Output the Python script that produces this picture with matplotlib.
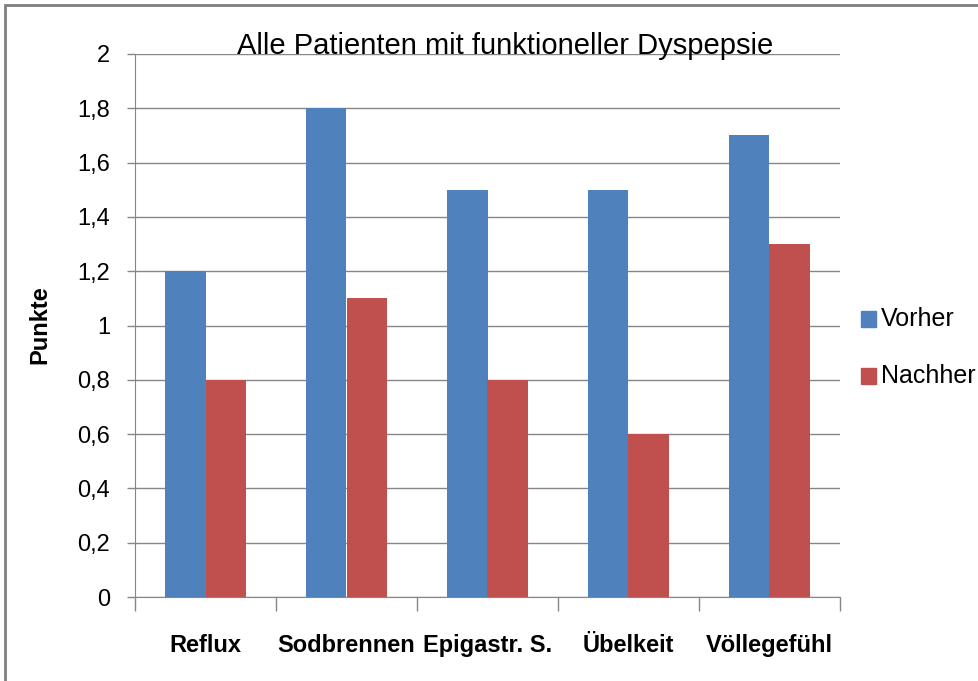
import matplotlib
matplotlib.use("Agg")
import matplotlib.pyplot as plt
import numpy as np
from matplotlib import font_manager
from matplotlib.patches import Rectangle

names = {f.name for f in font_manager.fontManager.ttflist}
fam = ["Liberation Sans Narrow"] if "Liberation Sans Narrow" in names else ["Liberation Sans"]
fam = fam + ["DejaVu Sans"]
plt.rcParams['font.family'] = fam

categories = ["Reflux", "Sodbrennen", "Epigastr. S.", "Übelkeit", "Völlegefühl"]
vorher = [1.2, 1.8, 1.5, 1.5, 1.7]
nachher = [0.8, 1.1, 0.8, 0.6, 1.3]
yticks = [0, 0.2, 0.4, 0.6, 0.8, 1.0, 1.2, 1.4, 1.6, 1.8, 2.0]
ylabels = ["0", "0,2", "0,4", "0,6", "0,8", "1", "1,2", "1,4", "1,6", "1,8", "2"]

fig = plt.figure(figsize=(9.79, 6.81), dpi=100)
ax = fig.add_axes([135/979, 1-597/681, 705/979, 543/681])

x = np.arange(len(categories))
w = 0.284
blue = "#4F81BD"
red = "#C0504D"
ax.bar(x - w/2, vorher, w, color=blue, label="Vorher", zorder=3)
ax.bar(x + w/2, nachher, w, color=red, label="Nachher", zorder=3)

ax.set_xlim(-0.5, len(categories) - 0.5)
ax.set_ylim(0, 2)
ax.set_yticks(yticks)
ax.set_yticklabels(ylabels, fontsize=17)
ax.yaxis.grid(True, color="#868686", linewidth=1, zorder=0)
ax.set_xticks(np.arange(len(categories) + 1) - 0.5)
ax.set_xticklabels([])
ax.tick_params(axis='x', length=10, color="#868686", width=1)
ax.tick_params(axis='y', length=6, color="#868686", width=1, pad=12)
for i, c in enumerate(categories):
    ax.text(i, -0.18, c, ha='center', va='center', fontsize=17, fontweight='bold')
for s in ["top", "right"]:
    ax.spines[s].set_visible(False)
for s in ["left", "bottom"]:
    ax.spines[s].set_color("#868686")

fig.text(40/979, 1-325/681, "Punkte", rotation=90, ha='center', va='center', fontsize=17, fontweight='bold')
fig.text(505/979, 1-46/681, "Alle Patienten mit funktioneller Dyspepsie", ha='center', va='center', fontsize=21)

# legend
fig.patches.append(Rectangle((861/979, 1-327/681), 15/979, 16/681, transform=fig.transFigure, color=blue))
fig.patches.append(Rectangle((861/979, 1-384/681), 15/979, 16/681, transform=fig.transFigure, color=red))
fig.text(881/979, 1-319/681, "Vorher", ha='left', va='center', fontsize=18)
fig.text(881/979, 1-376/681, "Nachher", ha='left', va='center', fontsize=18)

# frame
fig.patches.append(Rectangle((5/979, -0.2), 1.2, 1.2 - 5/681, transform=fig.transFigure, fill=False, edgecolor="#7f7f7f", linewidth=2))

fig.savefig("out.png", dpi=100)
